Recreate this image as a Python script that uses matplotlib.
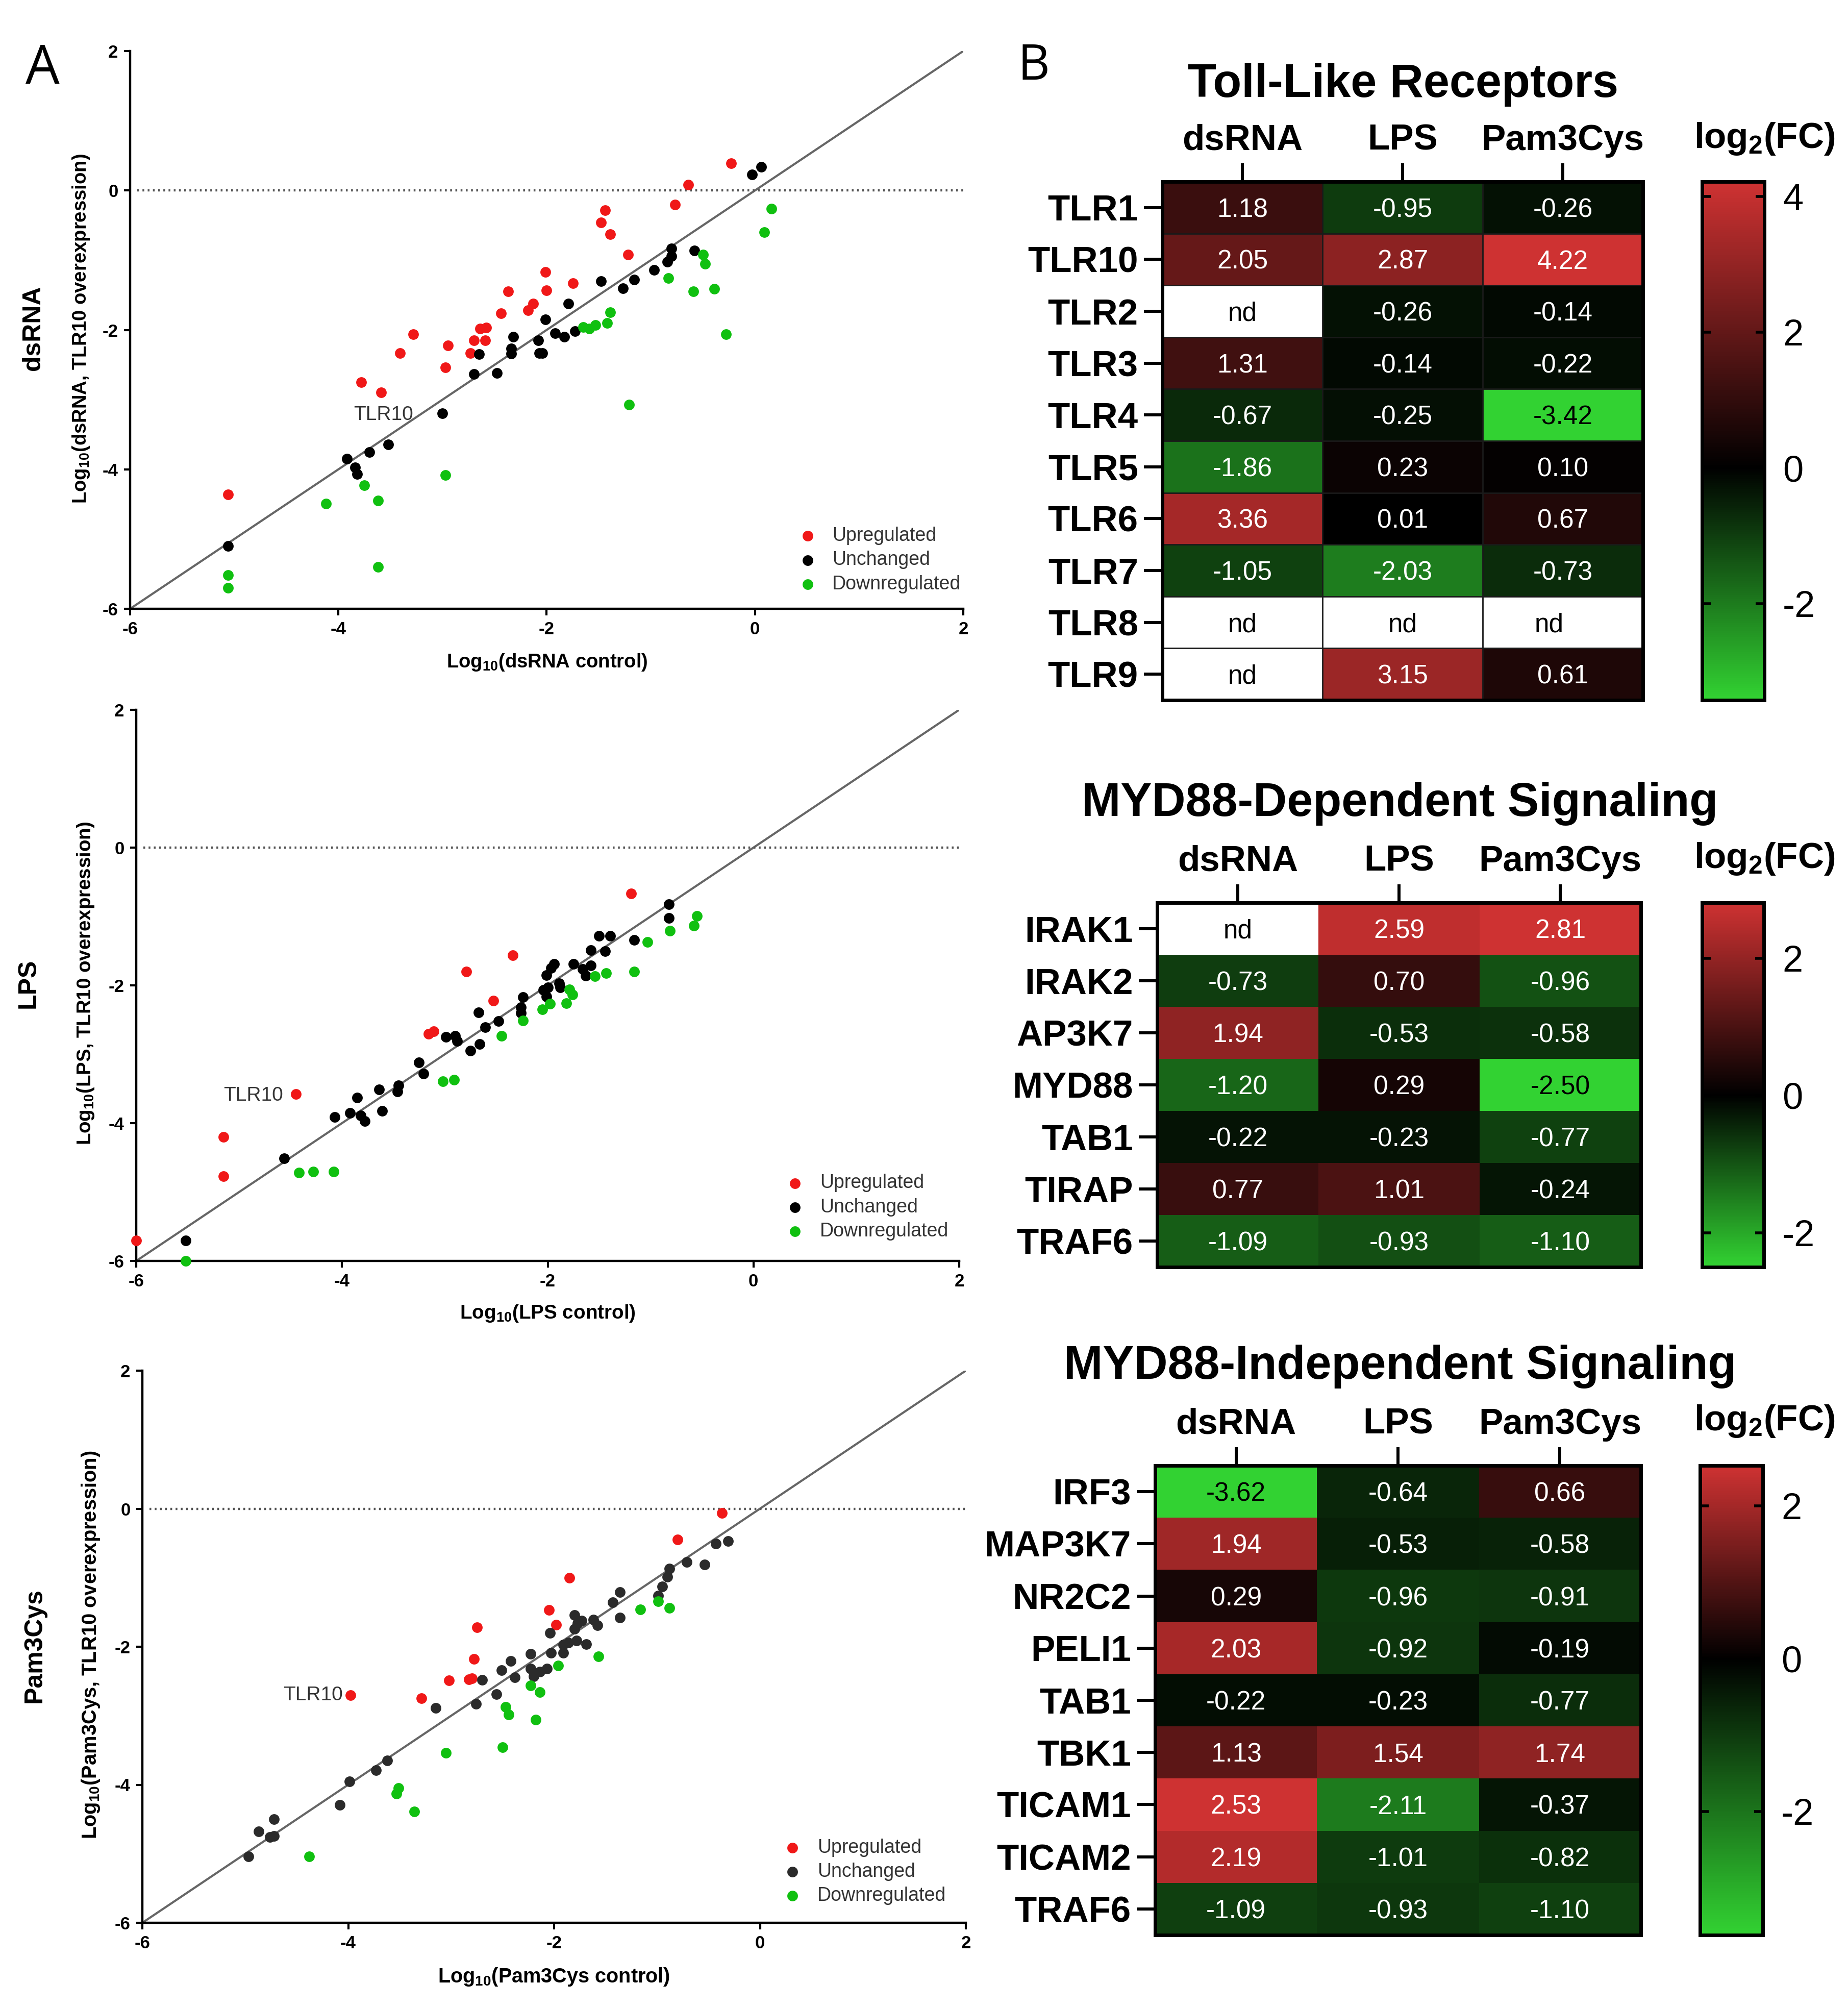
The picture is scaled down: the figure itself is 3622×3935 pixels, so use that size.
import numpy as np
import matplotlib
matplotlib.use('Agg')
import matplotlib.pyplot as plt
from matplotlib.cm import ScalarMappable
from matplotlib.colors import LinearSegmentedColormap, Normalize

plt.rcParams['font.family'] = ['Liberation Sans', 'DejaVu Sans']
plt.rcParams['axes.unicode_minus'] = False
plt.rcParams['mathtext.fontset'] = 'custom'
plt.rcParams['mathtext.bf'] = 'Liberation Sans:bold'
plt.rcParams['mathtext.rm'] = 'Liberation Sans'
plt.rcParams['mathtext.default'] = 'bf'

W, H = 3622, 3935

# scatter data, (control, overexpression)
dsrna_up = [(-0.23, 0.39), (-0.64, 0.08), (-0.77, -0.20), (-1.44, -0.28), (-1.48, -0.46), (-1.39, -0.63),
            (-1.22, -0.92), (-2.01, -1.17), (-1.75, -1.33), (-2.0, -1.43), (-2.37, -1.45), (-2.13, -1.62),
            (-2.18, -1.72), (-2.44, -1.76), (-2.58, -1.97), (-2.64, -1.98), (-3.28, -2.06), (-2.95, -2.22),
            (-2.70, -2.15), (-2.59, -2.15), (-2.73, -2.33), (-3.41, -2.33), (-2.97, -2.54), (-3.78, -2.75),
            (-3.59, -2.90), (-5.06, -4.36)]
dsrna_same = [(0.06, 0.34), (-0.03, 0.23), (-0.58, -0.86), (-0.80, -0.83), (-0.80, -0.94), (-0.84, -1.02),
              (-0.97, -1.14), (-1.16, -1.28), (-1.27, -1.40), (-1.48, -1.30), (-1.79, -1.62), (-2.01, -1.85),
              (-1.73, -2.02), (-1.92, -2.05), (-1.83, -2.10), (-2.08, -2.15), (-2.32, -2.10), (-2.34, -2.27),
              (-2.34, -2.34), (-2.07, -2.33), (-2.04, -2.33), (-2.65, -2.35), (-2.70, -2.63), (-2.48, -2.62),
              (-3.0, -3.20), (-3.52, -3.64), (-3.70, -3.75), (-3.92, -3.85), (-3.84, -3.97), (-3.82, -4.07),
              (-5.06, -5.10)]
dsrna_down = [(0.16, -0.26), (0.09, -0.60), (-0.50, -0.92), (-0.48, -1.05), (-0.83, -1.26), (-0.59, -1.45),
              (-0.39, -1.41), (-1.39, -1.75), (-1.42, -1.90), (-1.53, -1.93), (-1.59, -1.98), (-1.65, -1.96),
              (-0.28, -2.06), (-1.21, -3.07), (-2.97, -4.08), (-3.75, -4.23), (-4.12, -4.49), (-3.62, -4.45),
              (-3.62, -5.40), (-5.06, -5.52), (-5.06, -5.70)]

lps_up = [(-1.19, -0.67), (-2.34, -1.56), (-2.79, -1.80), (-2.53, -2.22), (-3.11, -2.67), (-3.16, -2.70),
          (-4.45, -3.58), (-5.15, -4.20), (-5.15, -4.77), (-6.0, -5.70)]
lps_same = [(-0.82, -0.82), (-0.82, -1.02), (-1.16, -1.34), (-1.50, -1.28), (-1.39, -1.28), (-1.44, -1.50),
            (-1.58, -1.49), (-1.75, -1.69), (-1.58, -1.71), (-1.94, -1.69), (-1.97, -1.75), (-2.01, -1.85),
            (-1.66, -1.76), (-1.63, -1.86), (-1.89, -1.97), (-1.88, -2.03), (-2.0, -2.03), (-2.04, -2.07),
            (-2.01, -2.16), (-2.24, -2.17), (-2.26, -2.32), (-2.26, -2.40), (-2.67, -2.39), (-2.48, -2.52),
            (-2.61, -2.61), (-2.90, -2.73), (-2.99, -2.75), (-2.88, -2.81), (-2.66, -2.85), (-2.75, -2.95),
            (-3.25, -3.12), (-3.21, -3.28), (-3.45, -3.45), (-3.46, -3.54), (-3.64, -3.51), (-3.85, -3.63),
            (-3.61, -3.82), (-3.92, -3.85), (-4.07, -3.91), (-3.82, -3.89), (-3.78, -3.97), (-4.56, -4.51),
            (-5.52, -5.70)]
lps_down = [(-0.55, -0.99), (-0.58, -1.13), (-0.81, -1.21), (-1.03, -1.37), (-1.16, -1.80), (-1.43, -1.82),
            (-1.54, -1.87), (-1.79, -2.06), (-1.76, -2.13), (-1.82, -2.26), (-1.98, -2.27), (-2.05, -2.35),
            (-2.24, -2.51), (-2.45, -2.73), (-2.91, -3.37), (-3.02, -3.39), (-4.08, -4.70), (-4.28, -4.70),
            (-4.42, -4.72), (-5.52, -6.0)]

pam_up = [(-0.37, -0.06), (-0.80, -0.45), (-1.85, -1.00), (-2.05, -1.47), (-1.98, -1.68), (-2.75, -1.72),
          (-2.78, -2.18), (-3.02, -2.49), (-2.80, -2.46), (-2.83, -2.47), (-3.29, -2.75), (-3.98, -2.70)]
pam_same = [(-0.31, -0.47), (-0.43, -0.51), (-0.71, -0.77), (-0.54, -0.81), (-0.88, -0.87), (-0.90, -0.99),
            (-0.95, -1.13), (-0.99, -1.26), (-1.36, -1.21), (-1.43, -1.36), (-1.36, -1.58), (-1.80, -1.54),
            (-1.62, -1.61), (-1.58, -1.69), (-1.73, -1.62), (-1.77, -1.66), (-1.80, -1.74), (-2.04, -1.80),
            (-1.78, -1.91), (-1.69, -1.96), (-1.86, -1.94), (-1.91, -1.97), (-1.91, -2.09), (-2.03, -2.09),
            (-2.23, -2.10), (-2.42, -2.21), (-2.51, -2.34), (-2.07, -2.32), (-2.14, -2.36), (-2.23, -2.32),
            (-2.20, -2.43), (-2.38, -2.44), (-2.70, -2.48), (-2.56, -2.69), (-2.76, -2.83), (-3.15, -2.89),
            (-3.62, -3.65), (-3.73, -3.79), (-3.99, -3.95), (-4.08, -4.29), (-4.72, -4.50), (-4.87, -4.68),
            (-4.72, -4.74), (-4.76, -4.76), (-4.97, -5.04)]
pam_down = [(-0.99, -1.34), (-1.16, -1.46), (-0.88, -1.44), (-1.57, -2.14), (-1.96, -2.27), (-2.23, -2.56),
            (-2.14, -2.66), (-2.47, -2.87), (-2.44, -2.98), (-2.18, -3.06), (-2.50, -3.46), (-3.05, -3.54),
            (-3.51, -4.05), (-3.53, -4.13), (-3.36, -4.39), (-4.38, -5.04)]

# heatmap data
treatments = ['dsRNA', 'LPS', 'Pam3Cys']
nd = np.nan

tlr_genes = ['TLR1', 'TLR10', 'TLR2', 'TLR3', 'TLR4', 'TLR5', 'TLR6', 'TLR7', 'TLR8', 'TLR9']
tlr_values = [[1.18, -0.95, -0.26], [2.05, 2.87, 4.22], [nd, -0.26, -0.14], [1.31, -0.14, -0.22],
              [-0.67, -0.25, -3.42], [-1.86, 0.23, 0.10], [3.36, 0.01, 0.67], [-1.05, -2.03, -0.73],
              [nd, nd, nd], [nd, 3.15, 0.61]]

dep_genes = ['IRAK1', 'IRAK2', 'AP3K7', 'MYD88', 'TAB1', 'TIRAP', 'TRAF6']
dep_values = [[nd, 2.59, 2.81], [-0.73, 0.70, -0.96], [1.94, -0.53, -0.58], [-1.20, 0.29, -2.50],
              [-0.22, -0.23, -0.77], [0.77, 1.01, -0.24], [-1.09, -0.93, -1.10]]

ind_genes = ['IRF3', 'MAP3K7', 'NR2C2', 'PELI1', 'TAB1', 'TBK1', 'TICAM1', 'TICAM2', 'TRAF6']
ind_values = [[-3.62, -0.64, 0.66], [1.94, -0.53, -0.58], [0.29, -0.96, -0.91], [2.03, -0.92, -0.19],
              [-0.22, -0.23, -0.77], [1.13, 1.54, 1.74], [2.53, -2.11, -0.37], [2.19, -1.01, -0.82],
              [-1.09, -0.93, -1.10]]


def px_axes(fig, x0, y0, x1, y1):
    return fig.add_axes([x0 / W, 1 - y1 / H, (x1 - x0) / W, (y1 - y0) / H])


def px_text(fig, x, y, s, **kw):
    kw.setdefault('ha', 'center')
    kw.setdefault('va', 'center')
    return fig.text(x / W, 1 - y / H, s, **kw)


def scatter_panel(fig, box, up, same, down, same_color, tlr10_pos, legend_pos):
    ax = px_axes(fig, *box)
    ax.set_xlim(-6, 2)
    ax.set_ylim(-6, 2)
    ax.plot([-6, 2], [-6, 2], color='#666666', lw=3, zorder=1)
    ax.plot([-5.93, 2], [0, 0], color='#555555', lw=3.2, ls=(0, (0.8, 1.5)), zorder=1)
    for pts, color, label in [(up, '#F01818', 'Upregulated'), (same, same_color, 'Unchanged'),
                              (down, '#10C010', 'Downregulated')]:
        arr = np.array(pts)
        ax.scatter(arr[:, 0], arr[:, 1], s=225, color=color, lw=0, clip_on=False, zorder=3, label=label)
    for side in ['top', 'right']:
        ax.spines[side].set_visible(False)
    for side in ['left', 'bottom']:
        ax.spines[side].set_linewidth(3.2)
    ax.set_xticks([-6, -4, -2, 0, 2])
    ax.set_yticks([-6, -4, -2, 0, 2])
    ax.tick_params(length=9, width=3, labelsize=25, pad=8)
    for t in ax.get_xticklabels() + ax.get_yticklabels():
        t.set_fontweight('bold')
    ax.text(tlr10_pos[0], tlr10_pos[1], 'TLR10', fontsize=28, color='#333333', ha='center', va='center')
    ax.legend(loc='center left', bbox_to_anchor=legend_pos, bbox_transform=ax.transData, frameon=False,
              fontsize=27, labelcolor='#333333', borderpad=0, borderaxespad=0, handlelength=0.8,
              handletextpad=0.9, labelspacing=0.3)
    return ax


def heat_panel(fig, box, cbar_box, title, title_pos, genes, values, gap, vmin, vmax, cticks, label_y):
    data = np.ma.masked_invalid(np.array(values))
    frac = -vmin / (vmax - vmin)
    cmap = LinearSegmentedColormap.from_list('gbr', [(0, '#32D232'), (frac, '#000000'), (1, '#CE3232')])
    cmap.set_bad('white')
    norm = Normalize(vmin, vmax)

    ax = px_axes(fig, *box)
    ax.pcolormesh(data, cmap=cmap, norm=norm)
    ax.set_ylim(len(genes), 0)
    ax.xaxis.tick_top()
    ax.set_xticks(np.arange(3) + 0.5, treatments, fontweight='bold')
    ax.set_yticks(np.arange(len(genes)) + 0.5, genes, fontweight='bold')
    ax.tick_params(length=26, width=4.3, labelsize=51, pad=8)
    for spine in ax.spines.values():
        spine.set_linewidth(5)
    if gap:
        ax.set_xticks([1, 2], minor=True)
        ax.set_yticks(np.arange(1, len(genes)), minor=True)
        ax.tick_params(which='minor', length=0)
        ax.grid(which='minor', color='#1a1a1a', lw=gap)

    # numbers sit a few pixels under the row centre in the original
    drop = 5 / ((box[3] - box[1]) / len(genes))
    for r, gene in enumerate(genes):
        for c in range(3):
            v = values[r][c]
            if np.isnan(v):
                xoff = -0.085 if gene == 'TLR8' and c == 2 else 0
                ax.text(c + 0.5 + xoff, r + 0.5 + drop, 'nd', color='black', fontsize=37, ha='center', va='center')
            else:
                color = 'black' if v <= -2.5 else 'white'
                ax.text(c + 0.5, r + 0.5 + drop, f'{v:.2f}', color=color, fontsize=37, ha='center', va='center')

    px_text(fig, title_pos[0], title_pos[1], title, fontsize=66, fontweight='bold')

    cax = px_axes(fig, *cbar_box)
    cb = fig.colorbar(ScalarMappable(norm=norm, cmap=cmap), cax=cax)
    cb.set_ticks(cticks)
    cb.ax.tick_params(direction='in', length=12, width=4, left=True, right=True, labelsize=52, pad=26)
    cb.outline.set_linewidth(5)
    px_text(fig, 3458, label_y, 'log$_{2}$(FC)', fontsize=51, fontweight='bold')


fig = plt.figure(figsize=(W / 100, H / 100), dpi=100)

scatter_panel(fig, (255, 100, 1888, 1193), dsrna_up, dsrna_same, dsrna_down, 'black', (-3.57, -3.22), (0.43, -5.30))
scatter_panel(fig, (267, 1391, 1880, 2471), lps_up, lps_same, lps_down, 'black', (-4.86, -3.60), (0.33, -5.22))
scatter_panel(fig, (279, 2686, 1893, 3768), pam_up, pam_same, pam_down, '#2b2b2b', (-4.34, -2.70), (0.24, -5.26))

px_text(fig, 65, 643, 'dsRNA', fontsize=36, fontweight='bold', rotation=90)
px_text(fig, 56, 1927, 'LPS', fontsize=36, fontweight='bold', rotation=90)
px_text(fig, 68, 3225, 'Pam3Cys', fontsize=36, fontweight='bold', rotation=90)

px_text(fig, 159, 644, 'Log$_{10}$(dsRNA, TLR10 overexpression)', fontsize=27.5, fontweight='bold', rotation=90)
px_text(fig, 168, 1927, 'Log$_{10}$(LPS, TLR10 overexpression)', fontsize=27.6, fontweight='bold', rotation=90)
px_text(fig, 178, 3223, 'Log$_{10}$(Pam3Cys, TLR10 overexpression)', fontsize=28.7, fontweight='bold', rotation=90)

px_text(fig, 1072, 1298, 'Log$_{10}$(dsRNA control)', fontsize=27.5, fontweight='bold')
px_text(fig, 1073, 2574, 'Log$_{10}$(LPS control)', fontsize=27.8, fontweight='bold')
px_text(fig, 1086, 3874, 'Log$_{10}$(Pam3Cys control)', fontsize=28.5, fontweight='bold')

px_text(fig, 83, 136, 'A', fontsize=76, family='Open Sans')
px_text(fig, 2026, 130, 'B', fontsize=70, family='Open Sans')

heat_panel(fig, (2278, 356, 3220, 1372), (3336, 356, 3458, 1372), 'Toll-Like Receptors', (2750, 166),
           tlr_genes, tlr_values, 2, -3.42, 4.22, [-2, 0, 2, 4], 272)
heat_panel(fig, (2268, 1769, 3216, 2483), (3336, 1769, 3457, 2483), 'MYD88-Dependent Signaling', (2744, 1575),
           dep_genes, dep_values, 0, -2.50, 2.81, [-2, 0, 2], 1683)
heat_panel(fig, (2264, 2872, 3216, 3792), (3332, 2872, 3455, 3792), 'MYD88-Independent Signaling', (2744, 2678),
           ind_genes, ind_values, 0, -3.62, 2.53, [-2, 0, 2], 2785)

fig.savefig('out.png', dpi=100)
